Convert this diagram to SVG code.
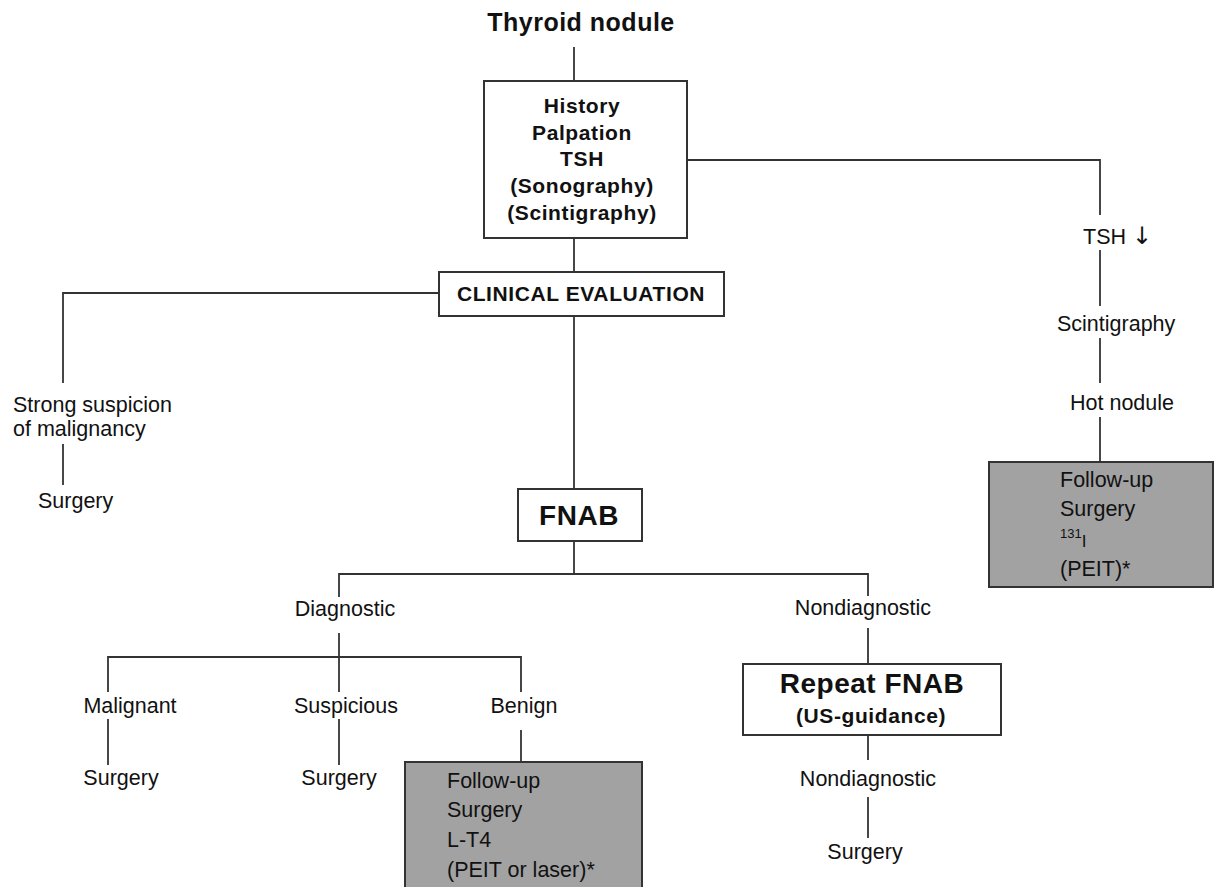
<svg xmlns="http://www.w3.org/2000/svg" width="1221" height="887" viewBox="0 0 1221 887">
<style>
text{font-family:"Liberation Sans",Arial,"DejaVu Sans",sans-serif;fill:#111;}
.r{font-size:21.5px;}
.b{font-size:21px;font-weight:bold;letter-spacing:0.6px;}
.big{font-size:28px;font-weight:bold;letter-spacing:0.5px;}
.m{text-anchor:middle;}
.box{fill:#fff;stroke:#333;stroke-width:2;}
.gray{fill:#a2a2a2;stroke:#333;stroke-width:2;}
.c line,.c polyline{stroke:#333;stroke-width:1.8;fill:none;}
</style>
<rect width="1221" height="887" fill="#fff"/>
<g class="c" id="connectors">
<line x1="574" y1="47" x2="574" y2="81"/>
<line x1="574" y1="238" x2="574" y2="272"/>
<polyline points="687,160 1100,160 1100,215"/>
<line x1="1100" y1="250" x2="1100" y2="306"/>
<line x1="1100" y1="338" x2="1100" y2="383"/>
<line x1="1100" y1="417" x2="1100" y2="462"/>
<polyline points="439,293 63,293 63,383"/>
<line x1="63" y1="444" x2="63" y2="485"/>
<line x1="574" y1="316" x2="574" y2="489"/>
<line x1="574" y1="541" x2="574" y2="574"/>
<polyline points="339,597 339,574 868,574 868,596"/>
<line x1="339" y1="633" x2="339" y2="692"/>
<polyline points="108,692 108,657 521,657 521,692"/>
<line x1="108" y1="719" x2="108" y2="765"/>
<line x1="339" y1="719" x2="339" y2="765"/>
<line x1="521" y1="730" x2="521" y2="762"/>
<line x1="868" y1="628" x2="868" y2="664"/>
<line x1="868" y1="735" x2="868" y2="760"/>
<line x1="868" y1="797" x2="868" y2="838"/>
</g>
<g id="n-title"><text class="m" x="581" y="31" style="font-size:25px;font-weight:bold;letter-spacing:0.5px">Thyroid nodule</text></g>
<g id="n-history">
<rect class="box" x="484" y="81" width="203" height="157"/>
<text class="b m" x="582" y="113">History</text>
<text class="b m" x="582" y="140">Palpation</text>
<text class="b m" x="582" y="166">TSH</text>
<text class="b m" x="582" y="193">(Sonography)</text>
<text class="b m" x="582" y="220">(Scintigraphy)</text>
</g>
<g id="n-clinical">
<rect class="box" x="439" y="272" width="285" height="44"/>
<text class="b m" x="581" y="301">CLINICAL EVALUATION</text>
</g>
<g id="n-strong">
<text class="r" x="13" y="412">Strong suspicion</text>
<text class="r" x="13" y="436">of malignancy</text>
</g>
<g id="n-surgery1"><text class="r" x="38" y="508">Surgery</text></g>
<g id="n-tsh"><text class="r" x="1083" y="244">TSH <tspan style="font-family:'DejaVu Sans',sans-serif;font-size:24px;fill:#111">↓</tspan></text></g>
<g id="n-scint"><text class="r" x="1057" y="331">Scintigraphy</text></g>
<g id="n-hot"><text class="r" x="1070" y="410">Hot nodule</text></g>
<g id="n-hotbox">
<rect class="gray" x="989" y="462" width="224" height="125"/>
<text class="r" x="1060" y="487">Follow-up</text>
<text class="r" x="1060" y="516">Surgery</text>
<text class="r" x="1060" y="547"><tspan style="font-size:13px" dy="-9">131</tspan><tspan style="font-size:17px" dy="9">I</tspan></text>
<text class="r" x="1060" y="576">(PEIT)*</text>
</g>
<g id="n-fnab">
<rect class="box" x="518" y="489" width="124" height="52"/>
<text class="big m" x="579" y="525">FNAB</text>
</g>
<g id="n-diag"><text class="r m" x="345" y="616">Diagnostic</text></g>
<g id="n-nondiag1"><text class="r m" x="863" y="615">Nondiagnostic</text></g>
<g id="n-malig"><text class="r m" x="130" y="713">Malignant</text></g>
<g id="n-susp"><text class="r m" x="346" y="713">Suspicious</text></g>
<g id="n-benign"><text class="r m" x="524" y="713">Benign</text></g>
<g id="n-surgery2"><text class="r m" x="121" y="785">Surgery</text></g>
<g id="n-surgery3"><text class="r m" x="339" y="785">Surgery</text></g>
<g id="n-benignbox">
<rect class="gray" x="405" y="762" width="237" height="126"/>
<text class="r" x="447" y="788">Follow-up</text>
<text class="r" x="447" y="817">Surgery</text>
<text class="r" x="447" y="847">L-T4</text>
<text class="r" x="447" y="877">(PEIT or laser)*</text>
</g>
<g id="n-repeat">
<rect class="box" x="743" y="664" width="258" height="71"/>
<text class="big m" x="872" y="693">Repeat FNAB</text>
<text class="b m" x="871" y="723">(US-guidance)</text>
</g>
<g id="n-nondiag2"><text class="r m" x="868" y="786">Nondiagnostic</text></g>
<g id="n-surgery4"><text class="r m" x="865" y="859">Surgery</text></g>
</svg>
